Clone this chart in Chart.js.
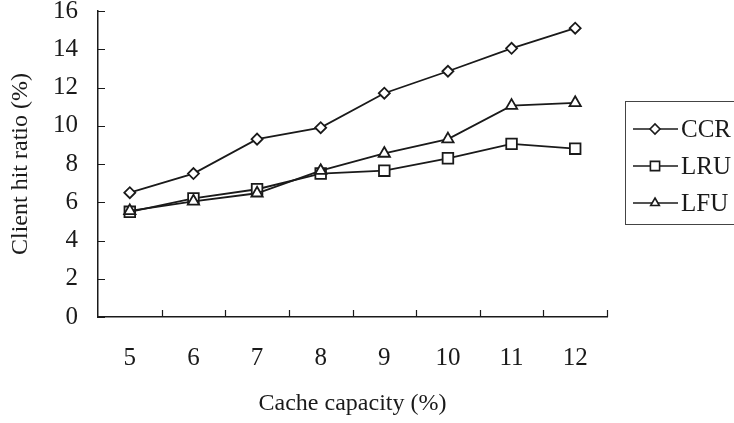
<!DOCTYPE html>
<html>
<head>
<meta charset="utf-8">
<script src="https://cdn.jsdelivr.net/npm/chart.js@4"></script>
<style>
  html, body { margin: 0; padding: 0; background: #fff; }
  #wrap { width: 734px; height: 423px; }
</style>
</head>
<body>
<div id="wrap"><canvas id="c" width="734" height="423"></canvas></div>
<script>
// Cache capacity (%) on the x axis
const categories = ['5', '6', '7', '8', '9', '10', '11', '12'];
// Client hit ratio (%) for each replacement policy
const ccr = [6.5, 7.5, 9.3, 9.9, 11.7, 12.85, 14.05, 15.1];
const lru = [5.5, 6.2, 6.68, 7.5, 7.65, 8.3, 9.05, 8.8];
const lfu = [5.55, 6.05, 6.47, 7.65, 8.55, 9.3, 11.05, 11.2];
const yTicks = [0, 2, 4, 6, 8, 10, 12, 14, 16];

const FONT = "'Liberation Serif', 'DejaVu Serif', serif";
const INK = '#1a1a1a';

// Short tick marks pointing into the plot area
const innerTicks = {
  id: 'innerTicks',
  afterDatasetsDraw(chart) {
    const { ctx, scales: { x, y } } = chart;
    ctx.save();
    ctx.strokeStyle = INK;
    ctx.lineWidth = 1.2;
    ctx.beginPath();
    for (let i = 1; i <= categories.length; i++) {
      const px = Math.round(x.getPixelForValue(i - 0.5)) + 0.5;
      ctx.moveTo(px, y.bottom);
      ctx.lineTo(px, y.bottom - 7);
    }
    yTicks.forEach(v => {
      const py = Math.round(y.getPixelForValue(v)) + 0.5;
      ctx.moveTo(x.left, py);
      ctx.lineTo(x.left + 7, py);
    });
    ctx.stroke();
    ctx.restore();
  }
};

function marker(ctx, style, cx, cy, r) {
  ctx.beginPath();
  if (style === 'rectRot') {
    ctx.moveTo(cx - r, cy); ctx.lineTo(cx, cy - r);
    ctx.lineTo(cx + r, cy); ctx.lineTo(cx, cy + r);
  } else if (style === 'rect') {
    const s = r * Math.SQRT1_2;
    ctx.rect(cx - s, cy - s, 2 * s, 2 * s);
  } else {
    for (let k = 0; k < 3; k++) {
      const a = k * 2 * Math.PI / 3;
      const px = cx + Math.sin(a) * r, py = cy - Math.cos(a) * r;
      k ? ctx.lineTo(px, py) : ctx.moveTo(px, py);
    }
  }
  ctx.closePath();
  ctx.fillStyle = '#fff';
  ctx.fill();
  ctx.stroke();
}

// Boxed legend to the right of the plot
const boxLegend = {
  id: 'boxLegend',
  afterDraw(chart) {
    const { ctx } = chart;
    const left = 625, top = 101, bottom = 224;
    ctx.save();
    ctx.strokeStyle = '#444';
    ctx.lineWidth = 1;
    ctx.strokeRect(left + 0.5, top + 0.5, 140, bottom - top);
    const rowY = [129, 166, 203];
    chart.data.datasets.forEach((ds, i) => {
      const yy = rowY[i];
      ctx.strokeStyle = INK;
      ctx.lineWidth = 1.6;
      ctx.beginPath();
      ctx.moveTo(633, yy); ctx.lineTo(678, yy);
      ctx.stroke();
      marker(ctx, ds.pointStyle, 655, yy, ds.pointStyle === 'rect' ? 6.5 : 5);
      ctx.fillStyle = INK;
      ctx.font = '25px ' + FONT;
      ctx.textAlign = 'left';
      ctx.textBaseline = 'middle';
      ctx.fillText(ds.label, 681, yy + 1);
    });
    ctx.restore();
  }
};

const common = {
  borderColor: INK,
  borderWidth: 1.8,
  pointBackgroundColor: '#fff',
  pointBorderColor: INK,
  pointBorderWidth: 1.8,
  tension: 0,
  fill: false
};

new Chart(document.getElementById('c'), {
  type: 'line',
  data: {
    labels: categories,
    datasets: [
      { ...common, label: 'CCR', data: ccr, pointStyle: 'rectRot', pointRadius: 5.5, order: 2 },
      { ...common, label: 'LRU', data: lru, pointStyle: 'rect', pointRadius: 7.5, order: 1 },
      { ...common, label: 'LFU', data: lfu, pointStyle: 'triangle', pointRadius: 6.5, order: 0 }
    ]
  },
  options: {
    responsive: false,
    animation: false,
    events: [],
    layout: { padding: { left: 0, top: 11, right: 127, bottom: 0 } },
    plugins: { legend: { display: false }, tooltip: { enabled: false } },
    scales: {
      x: {
        type: 'category',
        offset: true,
        grid: { display: false, drawTicks: false },
        border: { display: true, color: INK, width: 1.5 },
        ticks: { color: INK, padding: 26, maxRotation: 0, font: { family: FONT, size: 25 } },
        title: {
          display: true, text: 'Cache capacity (%)', color: INK,
          font: { family: FONT, size: 24 }, padding: { top: 0, bottom: 5 }
        },
        afterFit(s) { s.height = 106; s.paddingLeft = 0; s.paddingRight = 0; }
      },
      y: {
        min: 0, max: 16,
        grid: { display: false, drawTicks: false },
        border: { display: true, color: INK, width: 1.5 },
        afterBuildTicks(s) { s.ticks = yTicks.map(v => ({ value: v })); },
        ticks: { color: INK, padding: 20, font: { family: FONT, size: 25 } },
        title: {
          display: true, text: 'Client hit ratio (%)', color: INK,
          font: { family: FONT, size: 24 }, padding: { top: 6.5, bottom: 0 }
        },
        afterFit(s) { s.width = 98; s.paddingTop = 0; s.paddingBottom = 0; }
      }
    }
  },
  plugins: [innerTicks, boxLegend]
});
</script>
</body>
</html>
